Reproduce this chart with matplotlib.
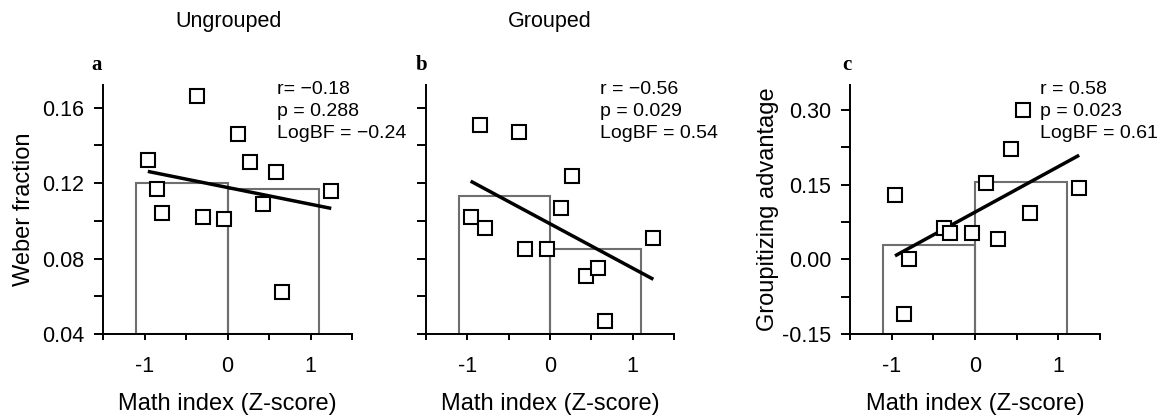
import numpy as np
import matplotlib
matplotlib.use("Agg")
import matplotlib.pyplot as plt
from matplotlib.ticker import FixedLocator

plt.rcParams['font.family'] = ['Liberation Sans', 'DejaVu Sans']
plt.rcParams['axes.unicode_minus'] = False

# math index (z-score), same subjects in every panel
math_z = [-0.96, -0.85, -0.79, -0.37, -0.30, -0.04, 0.13, 0.27, 0.43, 0.58, 0.66, 1.25]

weber_ungrouped = [0.132, 0.117, 0.104, 0.166, 0.102, 0.101, 0.146, 0.131, 0.109, 0.126, 0.062, 0.116]
weber_grouped = [0.102, 0.151, 0.096, 0.147, 0.085, 0.085, 0.107, 0.124, 0.071, 0.075, 0.047, 0.091]
group_adv = [0.13, -0.11, 0.0, 0.062, 0.052, 0.052, 0.154, 0.04, 0.222, 0.30, 0.092, 0.143]

# group means (below / above median)
bar_x = [-0.55, 0.55]
bar_ungrouped = [0.120, 0.117]
bar_grouped = [0.113, 0.085]
bar_adv = [0.029, 0.155]

stats_lines = [["r= \u22120.18", "p = 0.288", "LogBF = \u22120.24"],
               ["r = \u22120.56", "p = 0.029", "LogBF = 0.54"],
               ["r = 0.58", "p = 0.023", "LogBF = 0.61"]]
panel_letters = ["a", "b", "c"]
titles = ["Ungrouped", "Grouped", ""]
ylabels = ["Weber fraction", "", "Groupitizing advantage"]

W, H = 1162, 415
fig = plt.figure(figsize=(W / 100, H / 100), dpi=100)

def px_axes(left, right, top, bottom):
    return fig.add_axes([left / W, 1 - bottom / H, (right - left) / W, (bottom - top) / H])

axes = [px_axes(103, 352, 85, 334), px_axes(426, 674, 85, 334), px_axes(850, 1100, 85, 334)]
ys = [weber_ungrouped, weber_grouped, group_adv]
bars = [bar_ungrouped, bar_grouped, bar_adv]
ylims = [(0.04, 0.172), (0.04, 0.172), (-0.15, 0.35)]
text_x = [277, 600, 1040]
letter_x = [97, 422, 847]
title_x = [229, 550]

for i, ax in enumerate(axes):
    x = np.array(math_z)
    y = np.array(ys[i])
    y0 = ylims[i][0]
    ax.bar(bar_x, np.array(bars[i]) - y0, bottom=y0, width=1.1, fill=False,
           edgecolor='#6e6e6e', linewidth=1.5, zorder=1)
    k, b = np.polyfit(x, y, 1)
    xx = np.array([x.min(), x.max()])
    ax.plot(xx, k * xx + b, color='black', lw=2.5, zorder=2, solid_capstyle='butt')
    ax.plot(x, y, 's', ms=9.6, mfc='white', mec='black', mew=1.5, zorder=3)

    ax.set_xlim(-1.5, 1.5)
    ax.set_xticks([-1, 0, 1])
    ax.set_xticklabels(['-1', '0', '1'])
    ax.xaxis.set_minor_locator(FixedLocator([-1.5, -0.5, 0.5, 1.5]))
    ax.set_ylim(*ylims[i])
    if i < 2:
        ax.set_yticks([0.04, 0.08, 0.12, 0.16])
        ax.yaxis.set_minor_locator(FixedLocator([0.06, 0.10, 0.14]))
        ax.set_yticklabels(['0.04', '0.08', '0.12', '0.16'] if i == 0 else [])
    else:
        ax.set_yticks([-0.15, 0.0, 0.15, 0.30])
        ax.yaxis.set_minor_locator(FixedLocator([-0.075, 0.075, 0.225]))
        ax.set_yticklabels(['-0.15', '0.00', '0.15', '0.30'])

    for s in ['top', 'right']:
        ax.spines[s].set_visible(False)
    for s in ['left', 'bottom']:
        ax.spines[s].set_linewidth(1.4)
    ax.tick_params(which='both', direction='out', width=1.4, labelsize=15.5)
    ax.tick_params(axis='x', which='both', length=4.5, pad=11)
    ax.tick_params(axis='y', which='both', length=6.5, pad=7)
    ax.set_xlabel("Math index (Z-score)", fontsize=17, labelpad=12)
    if ylabels[i]:
        ax.set_ylabel(ylabels[i], fontsize=17, labelpad=5 if i == 0 else 2)

    for j, line in enumerate(stats_lines[i]):
        fig.text(text_x[i] / W, 1 - (94 + 22 * j) / H, line, fontsize=14,
                 ha='left', va='baseline')
    fig.text(letter_x[i] / W, 1 - 70 / H, panel_letters[i], fontsize=15,
             fontweight='bold', family='Liberation Serif', ha='center', va='baseline')
    if titles[i]:
        fig.text(title_x[i] / W, 1 - 27 / H, titles[i], fontsize=15.5,
                 ha='center', va='baseline')

fig.savefig("out.png", dpi=100)
